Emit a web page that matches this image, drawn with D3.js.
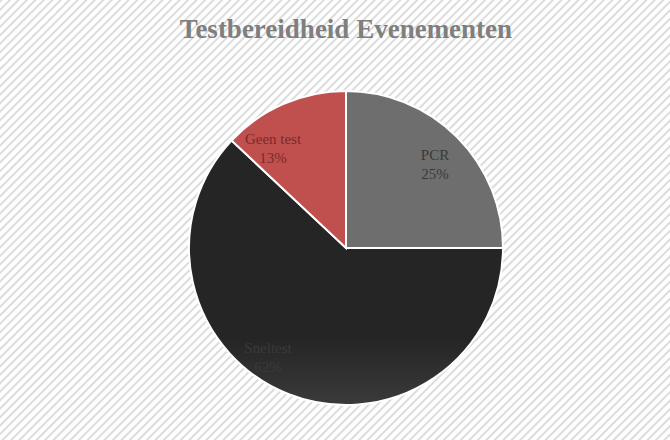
<!DOCTYPE html><html><head><meta charset="utf-8"><script src="https://cdn.jsdelivr.net/npm/d3@7"></script>
<style>body{margin:0}</style></head><body><svg id="c" width="670" height="440"></svg>
<script>
const categories=["PCR","Sneltest","Geen test"];
const values=[25,62,13];
const labels=["25%","62%","13%"];
const svg=d3.select("#c");
const defs=svg.append("defs");
const pat=defs.append("pattern").attr("id","st").attr("width",6).attr("height",6).attr("patternUnits","userSpaceOnUse").attr("patternTransform","rotate(45)");
pat.append("rect").attr("width",6).attr("height",6).attr("fill","#ffffff");
pat.append("rect").attr("width",2).attr("height",6).attr("fill","#dcdcdc");
svg.append("rect").attr("width",670).attr("height",440).attr("fill","url(#st)");
svg.append("text").attr("x",346).attr("y",38).attr("text-anchor","middle").attr("font-family","Liberation Serif, DejaVu Serif, serif").attr("font-weight","bold").attr("font-size",27).attr("fill","#7f7f7f").text("Testbereidheid Evenementen");
const cx=346,cy=248,r=157;
const grads=[["#6e6e6e","#b0b0b0"],["#252525","#8c8c8c"],["#c0504d","#e6aaa5"]];
grads.forEach((g,i)=>{const lg=defs.append("linearGradient").attr("id","g"+i).attr("gradientUnits","userSpaceOnUse").attr("x1",0).attr("y1",cy-r).attr("x2",0).attr("y2",cy+r);
lg.append("stop").attr("offset",0).attr("stop-color",g[0]);lg.append("stop").attr("offset",1).attr("stop-color",g[1]);});
const pie=d3.pie().sort(null).value(d=>d)(values);
const arc=d3.arc().innerRadius(0).outerRadius(r);
const g=svg.append("g").attr("transform",`translate(${cx},${cy})`);
g.selectAll("path").data(pie).join("path").attr("d",arc).attr("fill",(d,i)=>`url(#g${i})`).attr("stroke","#fff").attr("stroke-width",2);
const lpos=[[89,-88],[-78,105],[-73,-104]];
const lcol=["#3a3a3a","#3a3a3a","#7a2a28"];
pie.forEach((d,i)=>{const t=g.append("text").attr("text-anchor","middle").attr("font-family","Liberation Serif, DejaVu Serif, serif").attr("font-size",15).attr("fill",lcol[i]);
t.append("tspan").attr("x",lpos[i][0]).attr("y",lpos[i][1]).text(categories[i]);
t.append("tspan").attr("x",lpos[i][0]).attr("y",lpos[i][1]+19).text(labels[i]);});
</script></body></html>
